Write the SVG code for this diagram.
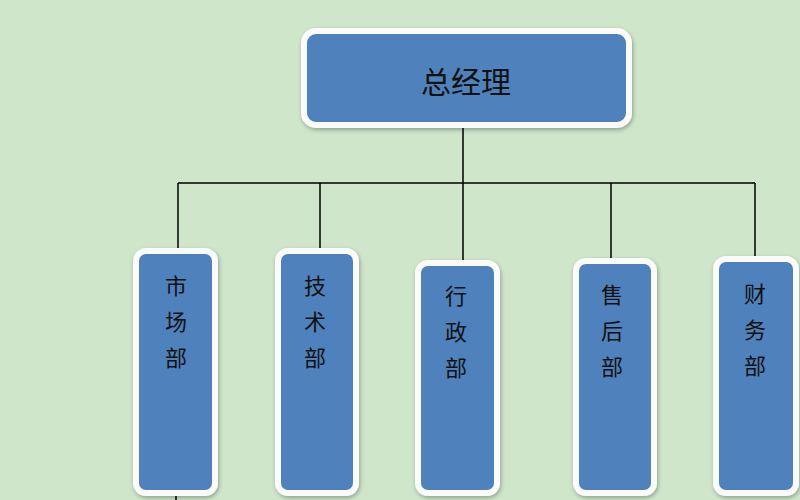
<svg xmlns="http://www.w3.org/2000/svg" width="800" height="500" viewBox="0 0 800 500">
<defs>
<filter id="sh" x="-20%" y="-20%" width="140%" height="140%"><feDropShadow dx="1" dy="2" stdDeviation="2" flood-color="#000" flood-opacity="0.3"/></filter>
<style>
.box{fill:#4f81bd;stroke:#fbfbfb;stroke-width:6;filter:url(#sh)}
.ln{stroke:#000;stroke-width:1.5;fill:none}
.t{font-family:"Noto Sans CJK SC",sans-serif;fill:#111;text-anchor:middle}
.v{font-size:22px}
</style>
</defs>
<rect width="800" height="500" fill="#cfe6cb"/>
<g id="connectors">
<path class="ln" d="M463 128V183M178 183H755M178 183V251M320 183V251M463 183V263M611 183V261M755 183V259M176 494V500"/>
</g>
<g id="n0"><rect class="box" x="304" y="31" width="325" height="94" rx="12"/><text class="t" x="466" y="93" font-size="30">总经理</text></g>
<g id="n1"><rect class="box" x="136" y="251" width="79" height="242" rx="10"/><text class="t v" x="176" y="294">市</text><text class="t v" x="176" y="330">场</text><text class="t v" x="176" y="366">部</text></g>
<g id="n2"><rect class="box" x="278" y="251" width="78" height="242" rx="10"/><text class="t v" x="315" y="294">技</text><text class="t v" x="315" y="330">术</text><text class="t v" x="315" y="366">部</text></g>
<g id="n3"><rect class="box" x="418" y="263" width="79" height="230" rx="10"/><text class="t v" x="456" y="304">行</text><text class="t v" x="456" y="340">政</text><text class="t v" x="456" y="376">部</text></g>
<g id="n4"><rect class="box" x="576" y="261" width="78" height="232" rx="10"/><text class="t v" x="612" y="303">售</text><text class="t v" x="612" y="339">后</text><text class="t v" x="612" y="375">部</text></g>
<g id="n5"><rect class="box" x="716" y="259" width="80" height="234" rx="10"/><text class="t v" x="755" y="302">财</text><text class="t v" x="755" y="338">务</text><text class="t v" x="755" y="374">部</text></g>
</svg>
